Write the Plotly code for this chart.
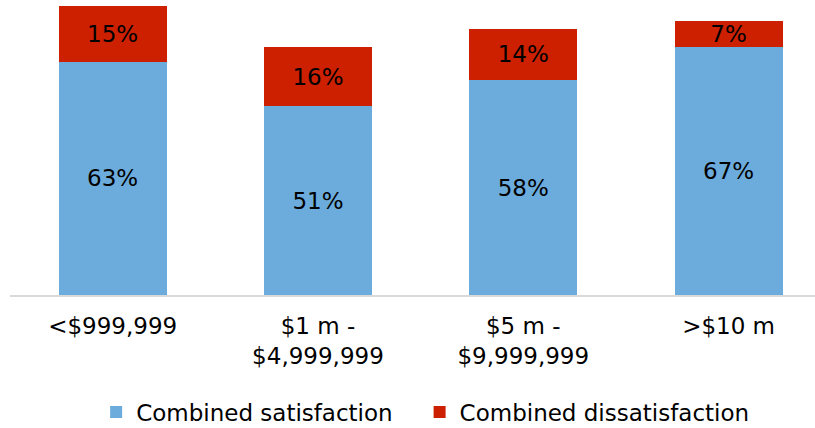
import plotly.graph_objects as go

categories = ["<$999,999", "$1 m -<br>$4,999,999", "$5 m -<br>$9,999,999", ">$10 m"]
satisfaction = [63, 51, 58, 67]
dissatisfaction = [15, 16, 14, 7]
series_names = ["Combined satisfaction", "Combined dissatisfaction"]

BLUE = "#6CACDC"
RED = "#CC2000"
FONT = "DejaVu Sans"
FS = 23

fig = go.Figure()
fig.add_trace(go.Bar(
    x=categories, y=satisfaction, name=series_names[0] + "\u00a0" * 3,
    marker=dict(color=BLUE, line=dict(width=0)),
    text=[f"{v}%" for v in satisfaction], textposition="inside",
    insidetextanchor="middle", textfont=dict(color="black", size=FS, family=FONT),
))
fig.add_trace(go.Bar(
    x=categories, y=dissatisfaction, name=series_names[1],
    marker=dict(color=RED, line=dict(width=0)),
    text=[f"{v}%" for v in dissatisfaction], textposition="inside",
    insidetextanchor="middle", textfont=dict(color="black", size=FS, family=FONT),
))

fig.update_layout(
    barmode="stack",
    bargap=0.474,
    width=815, height=428,
    margin=dict(l=10, r=0, t=0, b=133, autoexpand=False),
    paper_bgcolor="white", plot_bgcolor="white",
    font=dict(family=FONT, size=FS, color="black"),
    uniformtext=dict(minsize=FS, mode="show"),
    legend=dict(orientation="h", x=0.107, xanchor="left", y=-0.397, yanchor="middle",
                font=dict(size=FS, family=FONT), itemwidth=30, traceorder="normal"),
    showlegend=True,
)
fig.update_xaxes(range=[-0.5, 3.421], showline=True, linecolor="#D9D9D9", linewidth=2,
                 ticks="", ticklabelstandoff=9, tickfont=dict(size=FS, family=FONT),
                 showgrid=False, automargin=False)
fig.update_yaxes(range=[0, 79.7], visible=False, showgrid=False)

fig.write_html("out.html", config={"displayModeBar": False},
               post_script="document.body.style.margin='0';")
